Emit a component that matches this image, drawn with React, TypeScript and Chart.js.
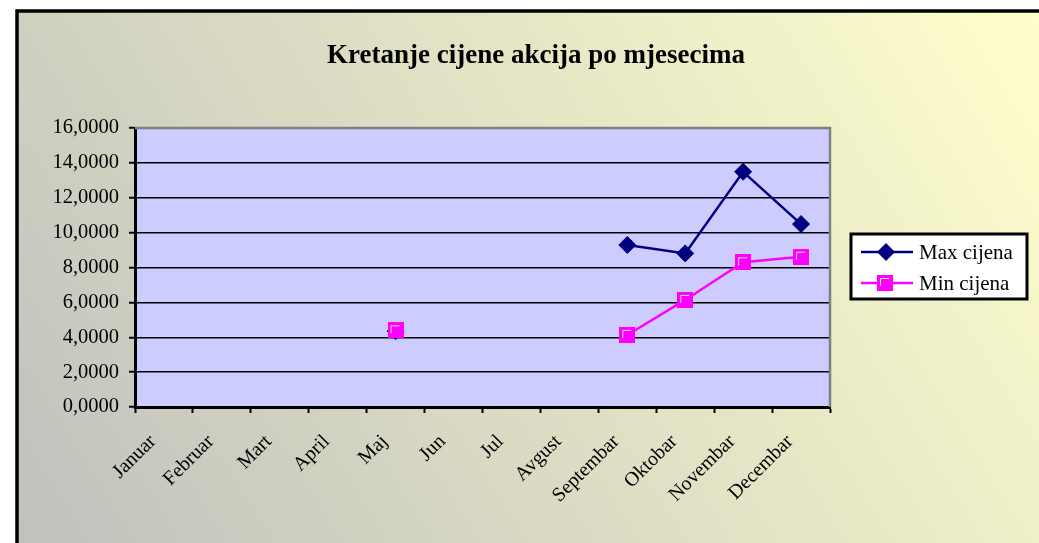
import React, { useEffect, useRef } from 'react';
import { Chart, registerables } from 'chart.js';

Chart.register(...registerables);

const months = ['Januar', 'Februar', 'Mart', 'April', 'Maj', 'Jun', 'Jul', 'Avgust', 'Septembar', 'Oktobar', 'Novembar', 'Decembar'];
const maxCijena = [null, null, null, null, 4.35, null, null, null, 9.29, 8.81, 13.49, 10.49];
const minCijena = [null, null, null, null, 4.4, null, null, null, 4.13, 6.14, 8.3, 8.62];
const seriesNames = ['Max cijena', 'Min cijena'];
const seriesColors = ['#000080', '#FF00FF'];
const chartTitle = 'Kretanje cijene akcija po mjesecima';
const yMin = 0;
const yMax = 16;
const yStep = 2;

const FONT = '"Liberation Serif", "Times New Roman", serif';

function makeSquareMarker(color: string): HTMLCanvasElement {
  const c = document.createElement('canvas');
  c.width = 16;
  c.height = 16;
  const x = c.getContext('2d')!;
  x.fillStyle = color;
  x.fillRect(0, 0, 16, 16);
  x.strokeStyle = 'rgba(255,255,255,0.9)';
  x.lineWidth = 1;
  x.beginPath();
  x.moveTo(3.5, 11);
  x.lineTo(3.5, 3.5);
  x.lineTo(12, 3.5);
  x.stroke();
  return c;
}

const decorPlugin = {
  id: 'decor',
  beforeDraw(chart: any) {
    const { ctx, width, height, chartArea: a } = chart;
    ctx.save();
    ctx.fillStyle = '#ffffff';
    ctx.fillRect(0, 0, width, height);
    const g = ctx.createLinearGradient(0, 640, 1039, 0);
    g.addColorStop(0, '#BDBDBD');
    g.addColorStop(1, '#FFFFCC');
    ctx.fillStyle = g;
    ctx.fillRect(17, 11, width, height);
    ctx.lineWidth = 3.5;
    ctx.strokeStyle = '#000';
    ctx.beginPath();
    ctx.moveTo(17, height + 10);
    ctx.lineTo(17, 11);
    ctx.lineTo(width + 10, 11);
    ctx.stroke();
    ctx.fillStyle = '#CCCCFF';
    ctx.fillRect(a.left, a.top, a.right - a.left, a.bottom - a.top);
    ctx.font = `bold 27px ${FONT}`;
    ctx.fillStyle = '#000';
    ctx.textAlign = 'center';
    ctx.textBaseline = 'alphabetic';
    ctx.fillText(chartTitle, 536, 63);
    ctx.restore();
  },
  beforeDatasetsDraw(chart: any) {
    const { ctx, chartArea: a } = chart;
    ctx.save();
    ctx.strokeStyle = '#808080';
    ctx.lineWidth = 2.5;
    ctx.beginPath();
    ctx.moveTo(a.left, a.top);
    ctx.lineTo(a.right, a.top);
    ctx.lineTo(a.right, a.bottom);
    ctx.stroke();
    ctx.restore();
  },
  afterDraw(chart: any) {
    const { ctx } = chart;
    ctx.save();
    const bx = 851, by = 234, bw = 176, bh = 65;
    ctx.fillStyle = '#fff';
    ctx.fillRect(bx, by, bw, bh);
    ctx.strokeStyle = '#000';
    ctx.lineWidth = 3;
    ctx.strokeRect(bx, by, bw, bh);
    const rows = [252, 283];
    chart.data.datasets.forEach((ds: any, i: number) => {
      const y = rows[i];
      ctx.strokeStyle = ds.borderColor;
      ctx.lineWidth = 2.5;
      ctx.beginPath();
      ctx.moveTo(861, y);
      ctx.lineTo(913, y);
      ctx.stroke();
      ctx.fillStyle = ds.borderColor;
      if (ds.pointStyle === 'rectRot') {
        ctx.beginPath();
        ctx.moveTo(886, y - 9);
        ctx.lineTo(895, y);
        ctx.lineTo(886, y + 9);
        ctx.lineTo(877, y);
        ctx.closePath();
        ctx.fill();
      } else if (ds.pointStyle instanceof HTMLCanvasElement) {
        ctx.drawImage(ds.pointStyle, 877, y - 8);
      }
      ctx.fillStyle = '#000';
      ctx.font = `21px ${FONT}`;
      ctx.textAlign = 'left';
      ctx.textBaseline = 'middle';
      ctx.fillText(ds.label, 919, y + 1);
    });
    ctx.restore();
  },
};

export default function App() {
  const ref = useRef<HTMLCanvasElement | null>(null);
  useEffect(() => {
    if (!ref.current) return;
    const squareMarker = makeSquareMarker(seriesColors[1]);
    const chart = new Chart(ref.current, {
      type: 'line',
      data: {
        labels: months,
        datasets: [
          {
            label: seriesNames[0],
            data: maxCijena,
            borderColor: seriesColors[0],
            backgroundColor: seriesColors[0],
            pointBackgroundColor: seriesColors[0],
            pointBorderColor: seriesColors[0],
            pointStyle: 'rectRot',
            pointRadius: 8.5,
            pointBorderWidth: 1,
            borderWidth: 2.5,
            tension: 0,
            spanGaps: false,
            order: 1,
          },
          {
            label: seriesNames[1],
            data: minCijena,
            borderColor: seriesColors[1],
            backgroundColor: seriesColors[1],
            pointBackgroundColor: seriesColors[1],
            pointBorderColor: seriesColors[1],
            pointStyle: squareMarker,
            pointRadius: 8,
            pointBorderWidth: 0,
            borderWidth: 2.5,
            tension: 0,
            spanGaps: false,
            order: 0,
          },
        ],
      },
      options: {
        responsive: false,
        animation: false,
        devicePixelRatio: 1,
        layout: { padding: { top: 128, right: 209, left: 0, bottom: 0 } },
        plugins: {
          legend: { display: false },
          title: { display: false },
          tooltip: { enabled: false },
        },
        scales: {
          x: {
            offset: true,
            grid: {
              offset: true,
              drawOnChartArea: false,
              drawTicks: true,
              tickLength: 6,
              tickColor: '#000',
              tickWidth: 2,
            },
            border: { color: '#000', width: 3 },
            ticks: {
              autoSkip: false,
              maxRotation: 45,
              minRotation: 45,
              color: '#000',
              padding: 17,
              labelOffset: -11,
              font: { family: FONT, size: 20 },
            },
            afterFit: (s: any) => { s.height = 543 - 407; },
          },
          y: {
            min: yMin,
            max: yMax,
            grid: {
              color: '#000',
              lineWidth: 1.5,
              drawTicks: true,
              tickLength: 6,
              tickColor: '#000',
              tickWidth: 2,
            },
            border: { color: '#000', width: 3 },
            ticks: {
              stepSize: yStep,
              color: '#000',
              padding: 10,
              font: { family: FONT, size: 20.5 },
              callback: (v: any) => Number(v).toFixed(4).replace('.', ','),
            },
            afterFit: (s: any) => { s.width = 135; },
          },
        },
      },
      plugins: [decorPlugin],
    });
    return () => chart.destroy();
  }, []);
  return (
    <div style={{ position: 'absolute', left: 0, top: 0, width: 1039, height: 543 }}>
      <canvas ref={ref} width={1039} height={543} style={{ display: 'block' }} />
    </div>
  );
}
